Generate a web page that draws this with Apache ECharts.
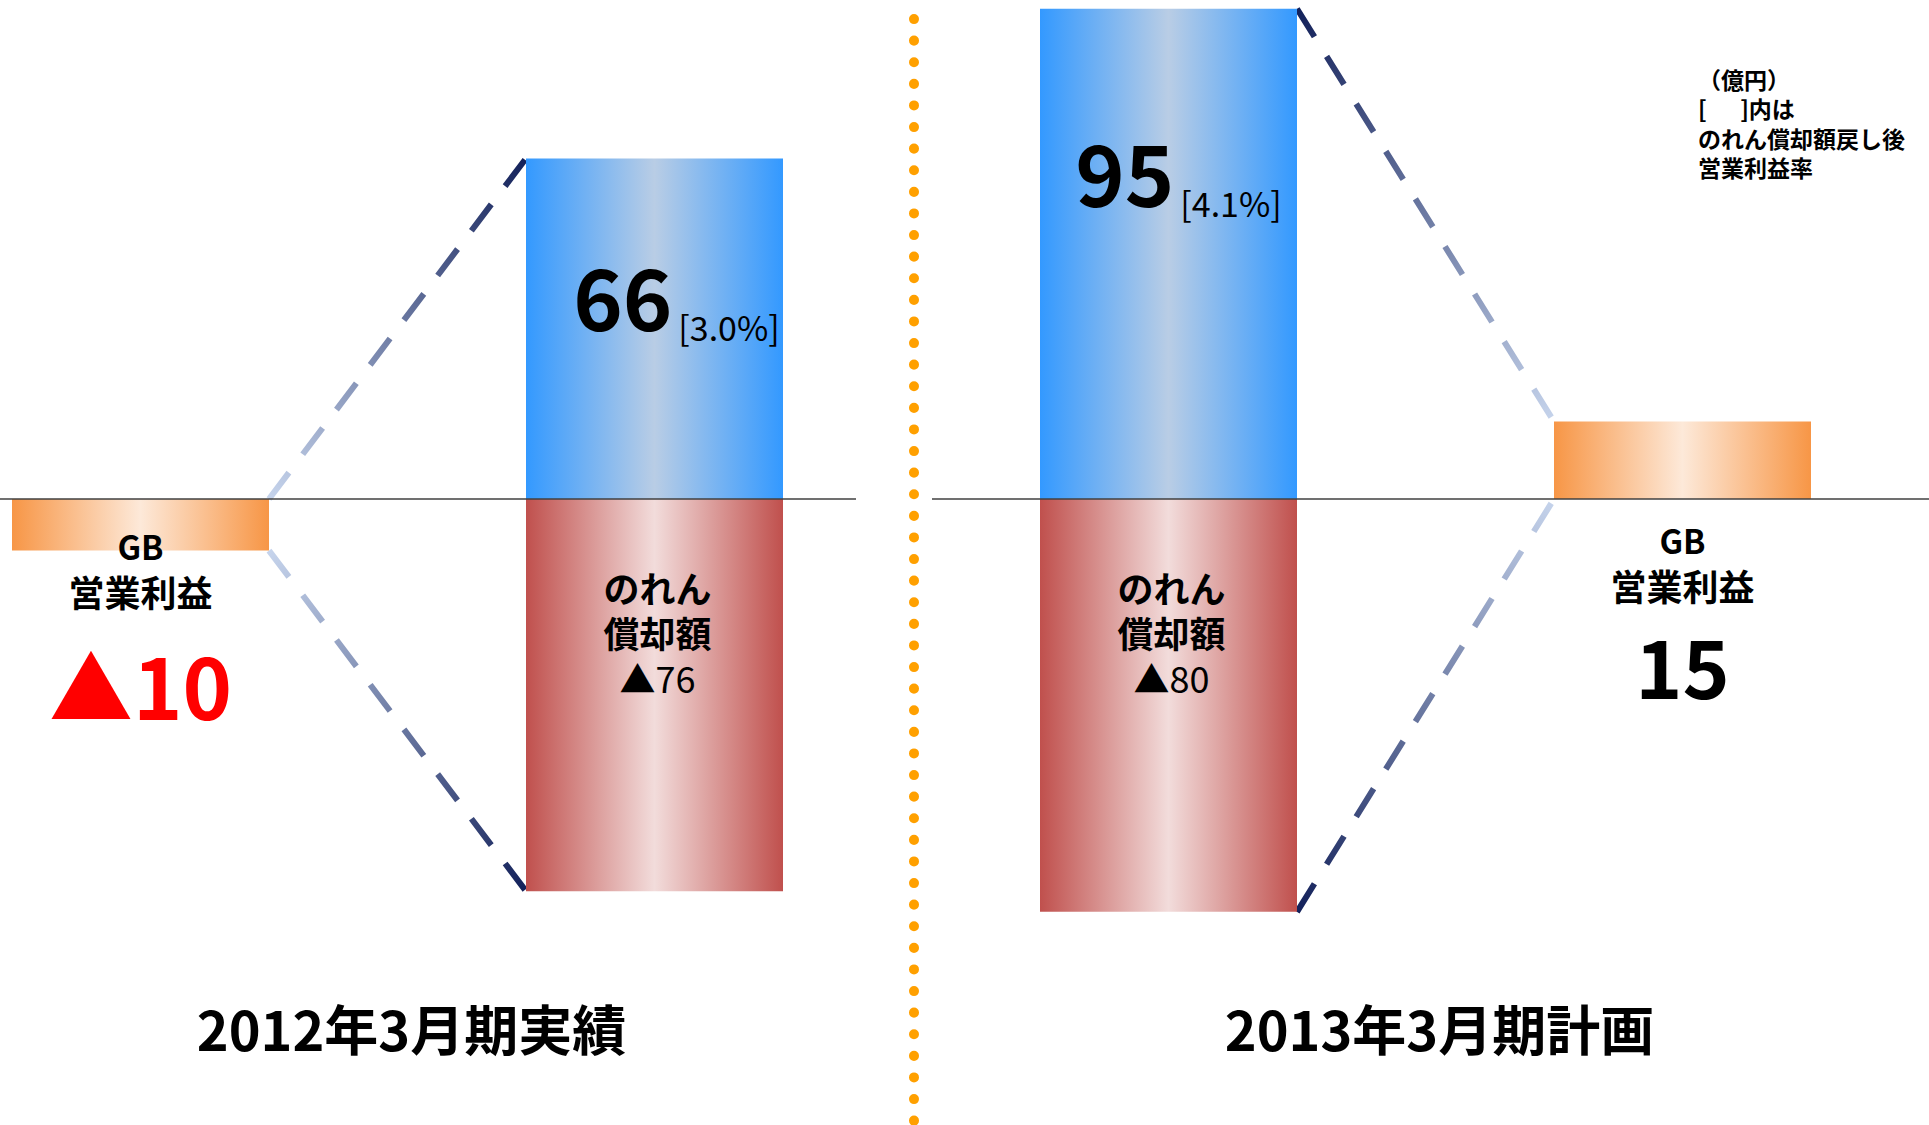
<!DOCTYPE html>
<html>
<head>
<meta charset="utf-8">
<title>GB営業利益</title>
<script src="https://cdn.jsdelivr.net/npm/echarts@6/dist/echarts.min.js"></script>
<style>
  html, body { margin: 0; padding: 0; background: #fff; }
  #statChartsGb { width: 1929px; height: 1125px; }
</style>
</head>
<body>
<div id="statChartsGb"></div>
<script>
// data (億円)
var slots = ['2012年3月期 GB営業利益', '2012年3月期 のれん償却', '2013年3月期 のれん償却', '2013年3月期 GB営業利益']
var periods = ['2012年3月期実績', '2013年3月期計画']
var gbProfit = [-10, null, null, 15]
var profitBeforeAmort = [null, 66, 95, null]
var amortization = [null, -76, -80, null]
var marginBeforeAmort = [null, '3.0%', '4.1%', null]
var connectorPairs = [[0, 1], [2, 3]]
var noteLines = ['（億円）', '[　  ]内は', 'のれん償却額戻し後', '営業利益率']

// label offsets (layout only)
var blueLabelOffset = [null, [22, 87], [10, 113], null]
var gbLabelOffset = [[0, 25], null, null, [0, 19]]

var FONT = '"Noto Sans CJK JP", "Noto Sans", sans-serif'
var BAR_WIDTH = 257

function hGradient (edge, center) {
  return new echarts.graphic.LinearGradient(0, 0, 1, 0, [
    { offset: 0, color: edge },
    { offset: 0.5, color: center },
    { offset: 1, color: edge }
  ])
}

function topOf (i) {
  return gbProfit[i] != null ? Math.max(gbProfit[i], 0) : profitBeforeAmort[i]
}
function bottomOf (i) {
  return gbProfit[i] != null ? Math.min(gbProfit[i], 0) : amortization[i]
}

// connector lines: [slotFrom, valueFrom, slotTo, valueTo]
var connectorData = []
connectorPairs.forEach(function (p) {
  connectorData.push([p[0], topOf(p[0]), p[1], topOf(p[1])])
  connectorData.push([p[0], bottomOf(p[0]), p[1], bottomOf(p[1])])
})

var blueData = profitBeforeAmort.map(function (v, i) {
  if (v == null) return '-'
  return { value: v, label: { offset: blueLabelOffset[i] } }
})
var redData = amortization.map(function (v) {
  return v == null ? '-' : v
})
var gbData = gbProfit.map(function (v, i) {
  if (v == null) return '-'
  return { value: v, label: { position: v < 0 ? 'insideTop' : 'bottom', offset: gbLabelOffset[i] } }
})

var chartEl = document.getElementById('statChartsGb')
var statCharts = echarts.init(chartEl, null, { renderer: 'svg' })

var option = {
  animation: false,
  backgroundColor: '#fff',
  textStyle: { fontFamily: FONT },
  title: {
    text: noteLines.join('\n'),
    left: 1698,
    top: 64,
    padding: 0,
    textStyle: { fontFamily: FONT, fontSize: 23, fontWeight: 'bold', lineHeight: 29.5, color: '#000' }
  },
  grid: { left: -116.5, right: -10.5, top: 3.6, bottom: 6.8, outerBoundsMode: 'none' },
  xAxis: [
    { type: 'category', data: slots, show: false },
    {
      type: 'category',
      data: periods,
      position: 'bottom',
      offset: -118,
      axisLine: { show: false, onZero: false },
      axisTick: { show: false },
      splitLine: { show: false },
      axisLabel: {
        margin: 0,
        interval: 0,
        padding: [0, 0, 0, 28],
        fontFamily: FONT,
        fontSize: 54,
        fontWeight: 'bold',
        color: '#000'
      }
    }
  ],
  yAxis: { type: 'value', min: -120, max: 96, show: false },
  series: [
    {
      name: 'のれん償却前営業利益',
      type: 'bar',
      stack: 'gb',
      barWidth: BAR_WIDTH,
      itemStyle: { color: hGradient('#3399ff', '#b9cde5') },
      label: {
        show: true,
        position: 'insideTop',
        distance: 0,
        formatter: function (p) {
          return '{v|' + p.value + '}{p|[' + marginBeforeAmort[p.dataIndex] + ']}'
        },
        rich: {
          v: { fontFamily: FONT, fontSize: 84, fontWeight: 'bold', lineHeight: 98, color: '#000' },
          p: { fontFamily: FONT, fontSize: 34, lineHeight: 32, verticalAlign: 'bottom', padding: [0, 0, 0, 6], color: '#000' }
        }
      },
      data: blueData
    },
    {
      name: 'のれん償却額',
      type: 'bar',
      stack: 'gb',
      barWidth: BAR_WIDTH,
      itemStyle: { color: hGradient('#c0504d', '#f2dcdb') },
      label: {
        show: true,
        position: 'insideTop',
        distance: 0,
        offset: [3, 66],
        formatter: function (p) {
          return '{a|のれん}\n{a|償却額}\n{n|▲' + Math.abs(p.value) + '}'
        },
        rich: {
          a: { fontFamily: FONT, fontSize: 36, fontWeight: 'bold', lineHeight: 45, color: '#000' },
          n: { fontFamily: FONT, fontSize: 36, lineHeight: 45, color: '#000' }
        }
      },
      data: redData
    },
    {
      name: 'GB営業利益',
      type: 'bar',
      stack: 'gb',
      barWidth: BAR_WIDTH,
      itemStyle: { color: hGradient('#f79646', '#fde9d9') },
      label: {
        show: true,
        distance: 0,
        formatter: function (p) {
          var v = p.value
          var num = v < 0 ? '{neg|▲' + Math.abs(v) + '}' : '{pos|' + v + '}'
          return '{g|GB}\n{b|営業利益}\n' + num
        },
        rich: {
          g: { fontFamily: FONT, fontSize: 33, fontWeight: 'bold', lineHeight: 45, color: '#000' },
          b: { fontFamily: FONT, fontSize: 36, fontWeight: 'bold', lineHeight: 45, color: '#000' },
          neg: { fontFamily: FONT, fontSize: 84, fontWeight: 'bold', lineHeight: 140, color: '#ff0000' },
          pos: { fontFamily: FONT, fontSize: 80, fontWeight: 'bold', lineHeight: 112, color: '#000' }
        }
      },
      data: gbData
    },
    {
      name: 'connector',
      type: 'custom',
      silent: true,
      encode: { x: [0, 2], y: [1, 3] },
      renderItem: function (params, api) {
        var s0 = api.value(0)
        var s1 = api.value(2)
        var p0 = api.coord([s0, api.value(1)])
        var p1 = api.coord([s1, api.value(3)])
        var half = BAR_WIDTH / 2
        var x0 = p0[0] + half
        var x1 = p1[0] - half
        // light end sits at the GB bar, dark end at the big bar
        var lightLeft = gbProfit[s0] != null
        var light = '#c6d4ec'
        var dark = '#13215a'
        var grad = new echarts.graphic.LinearGradient(x0, p0[1], x1, p1[1], [
          { offset: 0, color: lightLeft ? light : dark },
          { offset: 1, color: lightLeft ? dark : light }
        ], true)
        return {
          type: 'line',
          shape: { x1: x0, y1: p0[1], x2: x1, y2: p1[1] },
          style: { stroke: grad, lineWidth: 6, lineDash: [33, 23], fill: null }
        }
      },
      data: connectorData
    }
  ]
}

statCharts.setOption(option, true)

// zero line and period separator
var zeroY = statCharts.convertToPixel({ yAxisIndex: 0 }, 0)
statCharts.setOption({
  graphic: [
    {
      type: 'line',
      z: 100,
      silent: true,
      shape: { x1: 0, y1: zeroY, x2: 856, y2: zeroY },
      style: { stroke: '#404040', lineWidth: 1.5 }
    },
    {
      type: 'line',
      z: 100,
      silent: true,
      shape: { x1: 932, y1: zeroY, x2: 1929, y2: zeroY },
      style: { stroke: '#404040', lineWidth: 1.5 }
    },
    {
      type: 'line',
      z: 100,
      silent: true,
      shape: { x1: 914, y1: 19, x2: 914, y2: 1125 },
      style: { stroke: '#ffa000', lineWidth: 10, lineDash: [0.1, 21.5], lineCap: 'round' }
    }
  ]
})
</script>
</body>
</html>
